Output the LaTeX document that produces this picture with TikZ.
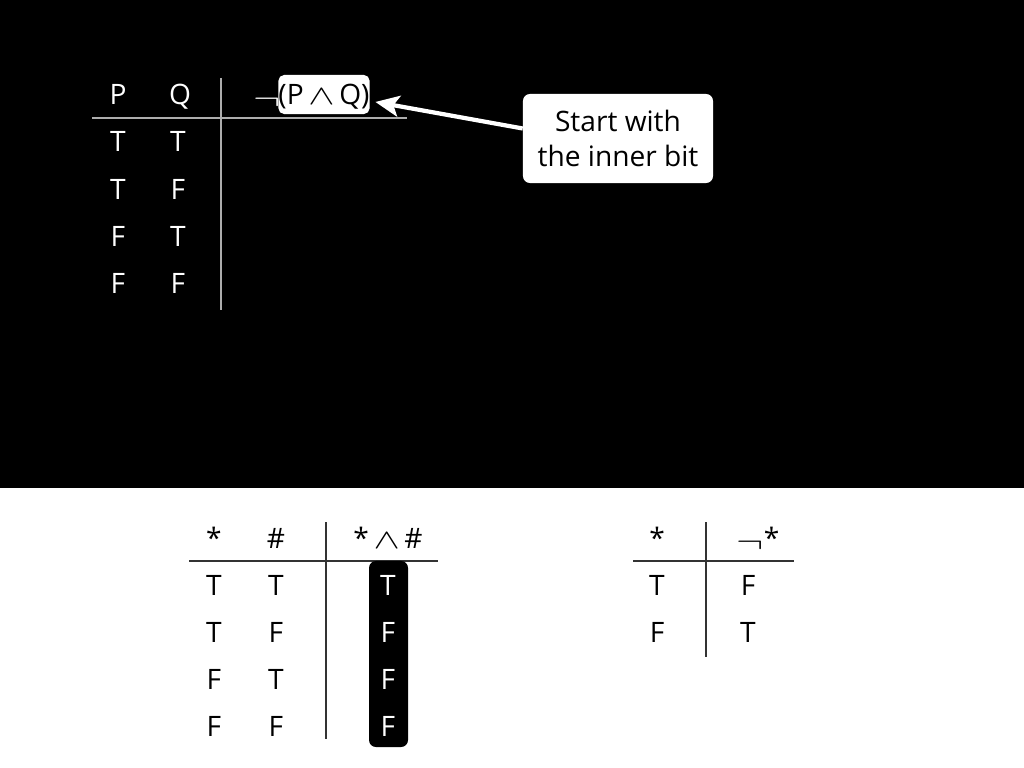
\documentclass[tikz,border=0pt]{standalone}
\usepackage{fontspec}
\setmainfont{Open Sans}
\usetikzlibrary{arrows.meta}

\newcommand{\negsym}{\raisebox{-3.5pt}{\scalebox{1.4}[1.1]{$\neg$}}}
\newcommand{\andsym}{\scalebox{1.35}[0.95]{$\wedge$}}

\begin{document}
\begin{tikzpicture}[x=0.025cm,y=-0.025cm,
    cell/.style={anchor=base,inner sep=0pt,font=\fontsize{20}{24}\selectfont},
    wcell/.style={cell,text=white},
    rulew/.style={draw=white!68!black,line width=1pt},
    ruleb/.style={draw=black!80,line width=1pt},
    tag/.style={fill=white,text=black,inner sep=0pt,font=\fontsize{20}{25}\selectfont}]
    \useasboundingbox (0,0) rectangle (1024,768);
    \fill[black] (0,0) rectangle (1024,488);
    \fill[white] (0,488) rectangle (1024,768);

    %upper table
    \draw[rulew] (92,118) -- (407,118);
    \draw[rulew] (221,78) -- (221,310);
    \node[wcell] (p0) at (118,105) {P};
    \node[wcell] (q0) at (180,105) {Q};
    \node[wcell] (neg) at (267,105) {\negsym};
    \node[tag,rounded corners=4pt,minimum width=22.5mm,minimum height=9.75mm,
        text height=17pt,text depth=3pt] (pq) at (324,94.5) {(P\,\andsym\,Q)};
    \node[wcell] (p1) at (118,152) {T};
    \node[wcell] (q1) at (178,152) {T};
    \node[wcell] (p2) at (118,199) {T};
    \node[wcell] (q2) at (178,199) {F};
    \node[wcell] (p3) at (118,246) {F};
    \node[wcell] (q3) at (178,246) {T};
    \node[wcell] (p4) at (118,293) {F};
    \node[wcell] (q4) at (178,293) {F};

    %callout
    \node[tag,rounded corners=5pt,minimum width=47.5mm,minimum height=22.25mm,
        align=center] (callout) at (618,138.5) {Start with\\the inner bit};
    \draw[white,line width=3pt,-{Stealth[length=17pt,width=15pt,inset=4pt]},
        shorten >=4pt] (callout.174) -- (pq.-8);

    %conjunction table
    \draw[ruleb] (189,561) -- (438,561);
    \draw[ruleb] (326,522) -- (326,739);
    \node[fill=black,rounded corners=5pt,minimum width=9.75mm,minimum height=46.5mm,
        inner sep=0pt] (colbox) at (388.5,654) {};
    \node[cell] (a0) at (214,548) {*};
    \node[cell] (b0) at (276,548) {\#};
    \node[cell] (c0) at (388,548) {*\,\andsym\,\#};
    \node[cell] (a1) at (214,595) {T};
    \node[cell] (b1) at (276,595) {T};
    \node[wcell] (c1) at (388,595) {T};
    \node[cell] (a2) at (214,642) {T};
    \node[cell] (b2) at (276,642) {F};
    \node[wcell] (c2) at (388,642) {F};
    \node[cell] (a3) at (214,689) {F};
    \node[cell] (b3) at (276,689) {T};
    \node[wcell] (c3) at (388,689) {F};
    \node[cell] (a4) at (214,736) {F};
    \node[cell] (b4) at (276,736) {F};
    \node[wcell] (c4) at (388,736) {F};

    %negation table
    \draw[ruleb] (633,561) -- (794,561);
    \draw[ruleb] (706,522) -- (706,657);
    \node[cell] (s0) at (657,548) {*};
    \node[cell] (n0) at (758,548) {\negsym*};
    \node[cell] (s1) at (657,595) {T};
    \node[cell] (n1) at (748,595) {F};
    \node[cell] (s2) at (657,642) {F};
    \node[cell] (n2) at (748,642) {T};
\end{tikzpicture}
\end{document}
